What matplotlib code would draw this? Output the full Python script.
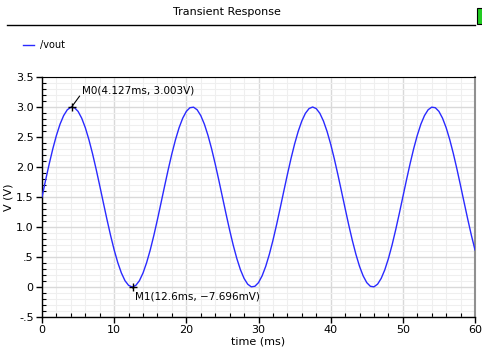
import matplotlib
matplotlib.use("Agg")
import matplotlib.pyplot as plt
from matplotlib.ticker import MultipleLocator
from matplotlib.patches import Rectangle
from matplotlib.lines import Line2D

time_ms = [i * 0.5 for i in range(121)]
vout = [1.500, 1.781, 2.052, 2.304, 2.527, 2.714, 2.857, 2.953, 2.997, 2.988,
        2.927, 2.814, 2.656, 2.456, 2.223, 1.964, 1.688, 1.406, 1.127, 0.861,
        0.618, 0.407, 0.234, 0.105, 0.027, 0.000, 0.027, 0.105, 0.234, 0.407,
        0.618, 0.861, 1.127, 1.406, 1.688, 1.964, 2.223, 2.456, 2.656, 2.814,
        2.927, 2.988, 2.997, 2.953, 2.857, 2.714, 2.527, 2.304, 2.052, 1.781,
        1.500, 1.219, 0.948, 0.696, 0.473, 0.286, 0.143, 0.047, 0.003, 0.012,
        0.073, 0.186, 0.344, 0.544, 0.777, 1.036, 1.312, 1.594, 1.873, 2.139,
        2.382, 2.593, 2.766, 2.895, 2.973, 3.000, 2.973, 2.895, 2.766, 2.593,
        2.382, 2.139, 1.873, 1.594, 1.312, 1.036, 0.777, 0.544, 0.344, 0.186,
        0.073, 0.012, 0.003, 0.047, 0.143, 0.286, 0.473, 0.696, 0.948, 1.219,
        1.500, 1.781, 2.052, 2.304, 2.527, 2.714, 2.857, 2.953, 2.997, 2.988,
        2.927, 2.814, 2.656, 2.456, 2.223, 1.964, 1.688, 1.406, 1.127, 0.861,
        0.618]
markers_x = [4.127, 12.6]
markers_y = [3.003, -0.007696]
marker_labels = ["M0(4.127ms, 3.003V)", "M1(12.6ms, \u22127.696mV)"]
x_ticks = [0, 10, 20, 30, 40, 50, 60]
y_ticks = [-0.5, 0, 0.5, 1.0, 1.5, 2.0, 2.5, 3.0, 3.5]
y_tick_labels = ["-.5", "0", ".5", "1.0", "1.5", "2.0", "2.5", "3.0", "3.5"]

W, H = 482, 360
fig = plt.figure(figsize=(W / 100, H / 100), dpi=100)
fig.patch.set_facecolor("white")

# axes rect: left 42, right 475, top 77, bottom 317 (pixels)
ax = fig.add_axes([42 / W, 1 - 317 / H, (475 - 42) / W, (317 - 77) / H])
ax.plot(time_ms, vout, color="#2a2aff", lw=1.0, zorder=3)
ax.set_xlim(0, 60)
ax.set_ylim(-0.5, 3.5)

ax.xaxis.set_minor_locator(MultipleLocator(2))
ax.yaxis.set_minor_locator(MultipleLocator(0.1))
ax.set_xticks(x_ticks)
ax.set_yticks(y_ticks)
ax.set_yticklabels(y_tick_labels)

ax.grid(which="major", color="#d9d9d9", lw=1.0, zorder=0)
ax.grid(which="minor", color="#efefef", lw=0.8, zorder=0)
ax.set_axisbelow(True)

ax.tick_params(which="major", direction="out", length=4, width=1, labelsize=8,
               colors="black", pad=2)
ax.tick_params(which="minor", direction="in", length=3, width=0.8)
for s in ["left", "bottom", "top"]:
    ax.spines[s].set_color("black")
    ax.spines[s].set_linewidth(1.0)
ax.spines["top"].set_linewidth(0.8)
ax.spines["right"].set_color("#909090")
ax.spines["right"].set_linewidth(1.5)

ax.set_xlabel("time (ms)", fontsize=8, labelpad=1)
ax.set_ylabel("V (V)", fontsize=8, labelpad=2)

# markers
ax.plot(markers_x, markers_y, linestyle="none", marker="+", color="black",
        ms=6, mew=1.0, zorder=4)
ax.annotate(marker_labels[0], xy=(markers_x[0], markers_y[0]),
            xytext=(5.6, 3.28), fontsize=7.5, color="black",
            arrowprops=dict(arrowstyle="-", color="black", lw=0.8,
                            shrinkA=0, shrinkB=0, relpos=(0, 0.3)),
            ha="left", va="center", zorder=5)
ax.annotate(marker_labels[1], xy=(markers_x[1], markers_y[1]),
            xytext=(12.85, -0.16), fontsize=7.5, color="black",
            arrowprops=dict(arrowstyle="-", color="black", lw=0.8,
                            shrinkA=0, shrinkB=0, relpos=(0, 0.8)),
            ha="left", va="center", zorder=5)

# title and header line
fig.text(227 / W, 1 - 12 / H, "Transient Response", ha="center", va="center",
         fontsize=8)
fig.add_artist(Line2D([7 / W, 475 / W], [1 - 25 / H, 1 - 25 / H],
                      color="black", lw=1.0))
fig.add_artist(Rectangle((477 / W, 1 - 24 / H), 6 / W, 16 / H,
                         facecolor="#22cc22", edgecolor="black", lw=0.8,
                         transform=fig.transFigure))

# legend
fig.add_artist(Line2D([23 / W, 34 / W], [1 - 45 / H, 1 - 45 / H],
                      color="#2a2aff", lw=1.0))
fig.text(40 / W, 1 - 45 / H, "/vout", ha="left", va="center", fontsize=7)

fig.savefig("out.png", dpi=100)
